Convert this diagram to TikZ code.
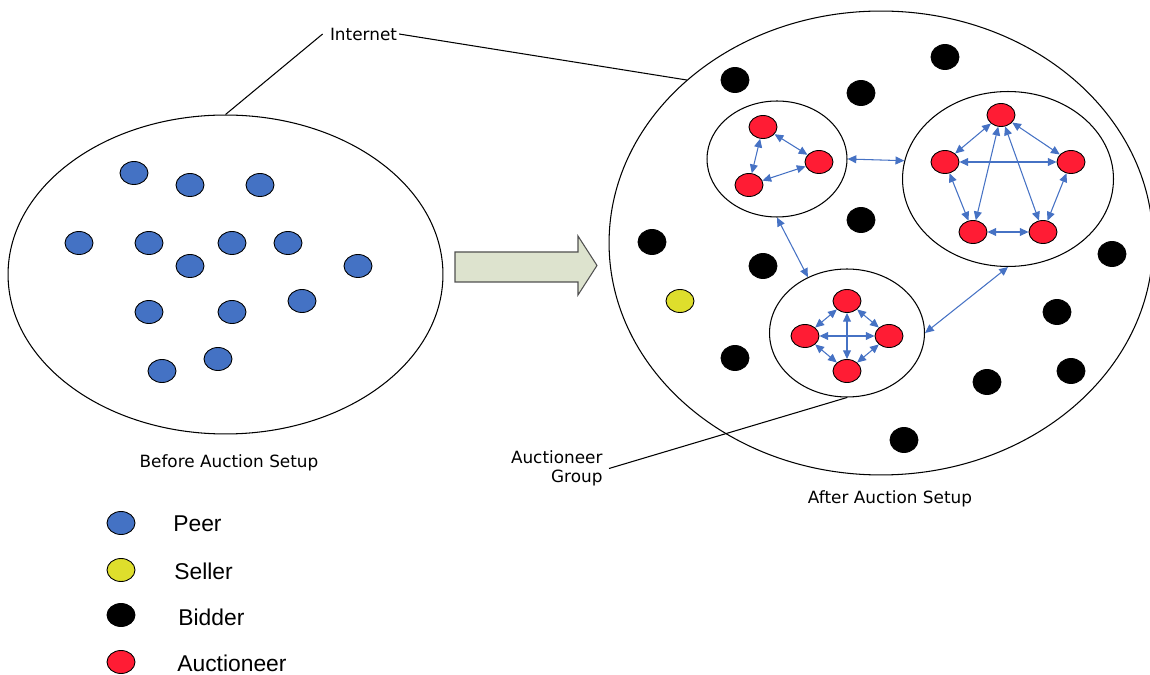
\documentclass[tikz,border=0pt]{standalone}
\usepackage{fontspec}
\setmainfont{DejaVu Sans}
\newfontfamily\lblfont{DejaVu Sans}
\newfontfamily\legfont{Liberation Sans}
\usetikzlibrary{shapes.geometric,arrows.meta}
\definecolor{peerblue}{RGB}{68,114,196}
\definecolor{sellyellow}{RGB}{222,222,44}
\definecolor{auctred}{RGB}{255,28,52}
\definecolor{arrowblue}{RGB}{70,114,196}
\definecolor{blockfill}{RGB}{221,227,206}
\definecolor{blockline}{RGB}{80,80,80}
\tikzset{
  dot/.style={ellipse, draw=black, line width=0.5pt, inner sep=0pt,
    minimum width=0.56cm, minimum height=0.46cm},
  peer/.style={dot, fill=peerblue},
  seller/.style={dot, fill=sellyellow},
  bidder/.style={dot, fill=black, minimum height=0.5cm},
  auct/.style={dot, fill=auctred},
  ring/.style={ellipse, draw=black, line width=0.6pt, inner sep=0pt},
  biarrow/.style={draw=arrowblue, line width=0.6pt,
    arrows={Triangle[length=5pt,width=4.5pt]-Triangle[length=5pt,width=4.5pt]}},
  lbl/.style={font=\lblfont\fontsize{9.6}{11}\selectfont, inner sep=1pt},
  leg/.style={font=\legfont\fontsize{13}{15}\selectfont, anchor=west, inner sep=0pt},
  leader/.style={draw=black, line width=0.6pt}
}
\begin{document}
\begin{tikzpicture}[x=0.02cm,y=-0.02cm]
\useasboundingbox (0,0) rectangle (1150,675);
\begin{scope}
\clip (0,0) rectangle (1150,675);
% big containers
\node[ring, minimum width=8.7cm, minimum height=6.38cm] (le) at (225.5,274.5) {};
\node[ring, minimum width=10.88cm, minimum height=9.28cm] (re) at (881,243) {};
\end{scope}
% peers before setup
\node[peer] (p1) at (134,173) {};
\node[peer] (p2) at (190,185) {};
\node[peer] (p3) at (260,185) {};
\node[peer] (p4) at (79,243) {};
\node[peer] (p5) at (149,243) {};
\node[peer] (p6) at (232,243) {};
\node[peer] (p7) at (288,243) {};
\node[peer] (p8) at (190,266) {};
\node[peer] (p9) at (358,266) {};
\node[peer] (p10) at (149,312) {};
\node[peer] (p11) at (232,312) {};
\node[peer] (p12) at (302,301) {};
\node[peer] (p13) at (218,359) {};
\node[peer] (p14) at (162,371) {};
% block arrow
\draw[fill=blockfill, draw=blockline, line width=0.6pt]
  (455,252) -- (578,252) -- (578,236) -- (597,265.5) -- (578,295) -- (578,282) -- (455,282) -- cycle;
% bidders
\node[bidder] (b1) at (735,80) {};
\node[bidder] (b2) at (861,93) {};
\node[bidder] (b3) at (945,57) {};
\node[bidder] (b4) at (652,242) {};
\node[bidder] (b5) at (763,266) {};
\node[bidder] (b6) at (861,220) {};
\node[bidder] (b7) at (1112,254) {};
\node[bidder] (b8) at (1057,312) {};
\node[bidder] (b9) at (735,358) {};
\node[bidder] (b10) at (987,382) {};
\node[bidder] (b11) at (1071,371) {};
\node[bidder] (b12) at (904,440) {};
\node[seller] (s1) at (680,301) {};
% auctioneer groups
\node[ring, minimum width=2.8cm, minimum height=2.32cm] (lg) at (777,159) {};
\node[ring, minimum width=4.22cm, minimum height=3.5cm] (rg) at (1008,179) {};
\node[ring, minimum width=3.1cm, minimum height=2.56cm] (bg) at (847,333) {};
% left group
\node[auct] (l1) at (763,127) {};
\node[auct] (l2) at (819,162) {};
\node[auct] (l3) at (749,185) {};
\draw[biarrow] (l1) -- (l2);
\draw[biarrow] (l1) -- (l3);
\draw[biarrow] (l2) -- (l3);
% right group
\node[auct] (r1) at (1001,115) {};
\node[auct] (r2) at (945,162) {};
\node[auct] (r3) at (1071,162) {};
\node[auct] (r4) at (973,232) {};
\node[auct] (r5) at (1043,232) {};
\draw[biarrow] (r1) -- (r2);
\draw[biarrow] (r1) -- (r3);
\draw[biarrow] (r2) -- (r3);
\draw[biarrow] (r2) -- (r4);
\draw[biarrow] (r3) -- (r5);
\draw[biarrow] (r4) -- (r5);
\draw[biarrow] (r1) -- (r4);
\draw[biarrow] (r1) -- (r5);
% bottom group
\node[auct] (m1) at (847,301) {};
\node[auct] (m2) at (805,336) {};
\node[auct] (m3) at (889,336) {};
\node[auct] (m4) at (847,371) {};
\draw[biarrow] (m1) -- (m2);
\draw[biarrow] (m1) -- (m3);
\draw[biarrow] (m2) -- (m4);
\draw[biarrow] (m3) -- (m4);
\draw[biarrow] (m2) -- (m3);
\draw[biarrow] (m1) -- (m4);
% group to group
\draw[biarrow] (lg.0) -- (rg.170);
\draw[biarrow] (lg.270) -- (bg.125);
\draw[biarrow] (bg.0) -- (rg.270);
% labels
\node[lbl] (inet) at (363.5,34) {Internet};
\draw[leader] (le.90) -- ([xshift=-3pt]inet.west);
\draw[leader] (inet.east) -- (re.140.7);
\node[lbl, align=right, anchor=east, inner sep=3.5pt] (ag) at (609,468.5) {Auctioneer\\Group};
\draw[leader] (ag.east) -- (bg.270);
\node[lbl] (before) at (229,463) {Before Auction Setup};
\node[lbl] (after) at (890,499) {After Auction Setup};
% legend
\node[peer] (k1) at (121,523) {};
\node[seller] (k2) at (121,570) {};
\node[bidder, minimum height=0.46cm] (k3) at (121,615) {};
\node[auct] (k4) at (121,662) {};
\node[leg] (t1) at (173,524) {Peer};
\node[leg] (t2) at (174,571) {Seller};
\node[leg] (t3) at (178,617) {Bidder};
\node[leg] (t4) at (177,663) {Auctioneer};
\end{tikzpicture}
\end{document}
